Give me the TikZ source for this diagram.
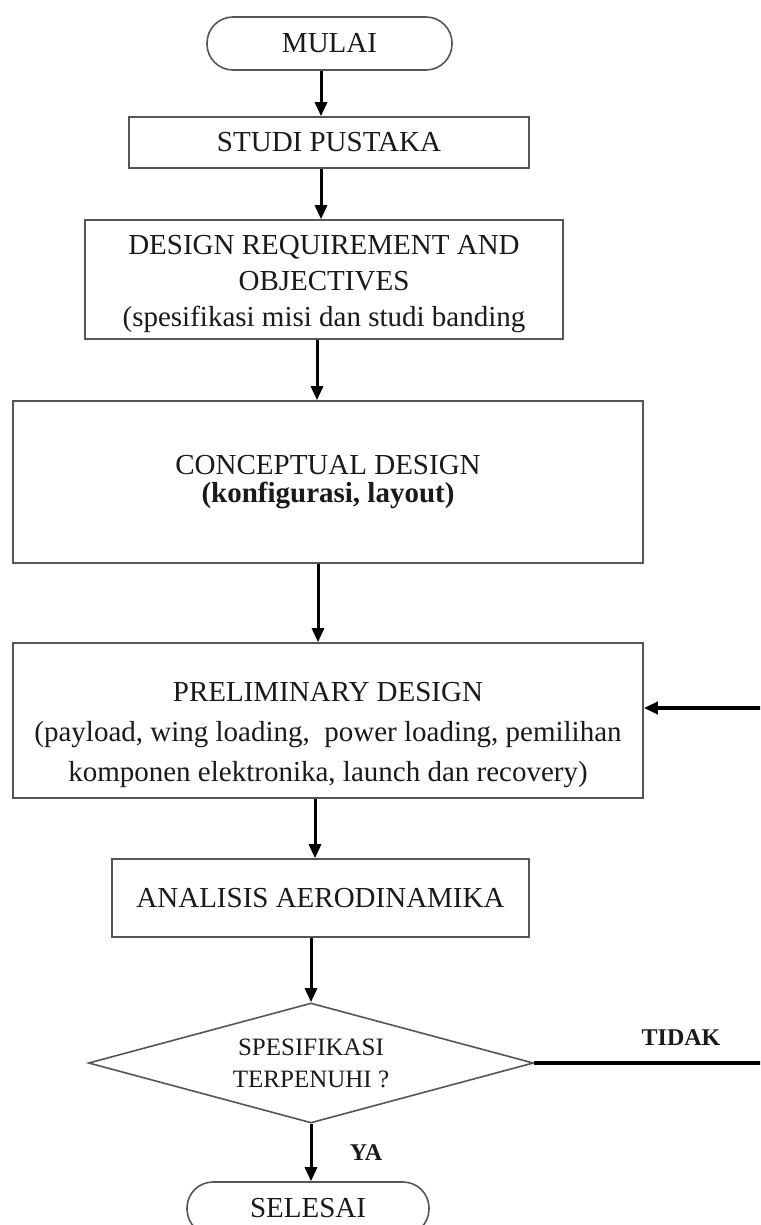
\documentclass[tikz,border=0pt]{standalone}
\usepackage{fontspec}
\setmainfont{Liberation Serif}
\usetikzlibrary{arrows.meta,shapes.geometric,calc}
\definecolor{boxgray}{HTML}{555555}
\definecolor{textc}{HTML}{1A1A1A}
\begin{document}
\begin{tikzpicture}[x=1pt,y=-1pt,
  box/.style={draw=boxgray, line width=1.6pt, rectangle, inner sep=0pt, text=textc,
              font=\fontsize{29}{35}\selectfont, align=center},
  term/.style={box, rounded corners=26pt},
  txt/.style={text=textc, align=center, inner sep=0pt},
  dia/.style={draw=boxgray, line width=1.6pt, diamond, aspect=3.7, inner sep=0pt,
              text=textc, font=\fontsize{25}{32}\selectfont, align=center},
  arr/.style={line width=3pt, -{Triangle[length=14pt,width=12pt]}},
  lbl/.style={text=textc, font=\bfseries\fontsize{24}{24}\selectfont}]
\clip (0,0) rectangle (760,1225);
\fill[white] (0,0) rectangle (760,1225);

\node[term, minimum width=245pt, minimum height=53pt] (mulai) at (329.5,43.5) {MULAI};
\node[box, minimum width=400pt, minimum height=51pt] (studi) at (329,142.5) {STUDI PUSTAKA};
\node[box, minimum width=478pt, minimum height=119pt] (dro) at (324,279.5) {};
\node[txt, font=\fontsize{29}{36}\selectfont] (drotext) at (324,284)
  {DESIGN REQUIREMENT AND\\OBJECTIVES\\(spesifikasi misi dan studi banding};
\node[box, minimum width=630pt, minimum height=162pt, font=\fontsize{29}{28}\selectfont] (conc) at (328,482)
  {CONCEPTUAL DESIGN\\\textbf{(konfigurasi, layout)}};
\node[box, minimum width=630pt, minimum height=155pt] (prelim) at (328,720.5) {};
\node[txt, font=\fontsize{29}{40}\selectfont] (prelimtext) at (328,735)
  {PRELIMINARY DESIGN\\(payload, wing loading,\ \ power loading, pemilihan\\komponen elektronika, launch dan recovery)};
\node[box, minimum width=417pt, minimum height=78pt] (anal) at (320.5,898) {ANALISIS AERODINAMIKA};
\node[dia, minimum width=445pt, minimum height=120pt] (dec) at (311,1063) {SPESIFIKASI\\TERPENUHI ?};
\node[term, minimum width=242pt, minimum height=53pt] (selesai) at (308,1208.5) {SELESAI};

\coordinate (c1) at (321,0);
\coordinate (c2) at (321,0);
\coordinate (c3) at (317,0);
\coordinate (c4) at (318,0);
\coordinate (c5) at (315,0);
\draw[arr] (mulai.south -| c1) -- (studi.north -| c1);
\draw[arr] (studi.south -| c2) -- (dro.north -| c2);
\draw[arr] (dro.south -| c3) -- (conc.north -| c3);
\draw[arr] (conc.south -| c4) -- (prelim.north -| c4);
\draw[arr] (prelim.south -| c5) -- (anal.north -| c5);
\draw[arr] (anal.south -| dec.north) -- (dec.north);
\draw[arr] (dec.south) -- (selesai.north -| dec.south);

\coordinate (fb) at (775,708);
\draw[arr, line width=3.5pt] (dec.east) -- (dec.east -| fb) -- (fb) -- (fb -| prelim.east);

\node[lbl] (tidak) at (681,1038) {TIDAK};
\node[lbl] (ya) at (366,1153) {YA};
\end{tikzpicture}
\end{document}
